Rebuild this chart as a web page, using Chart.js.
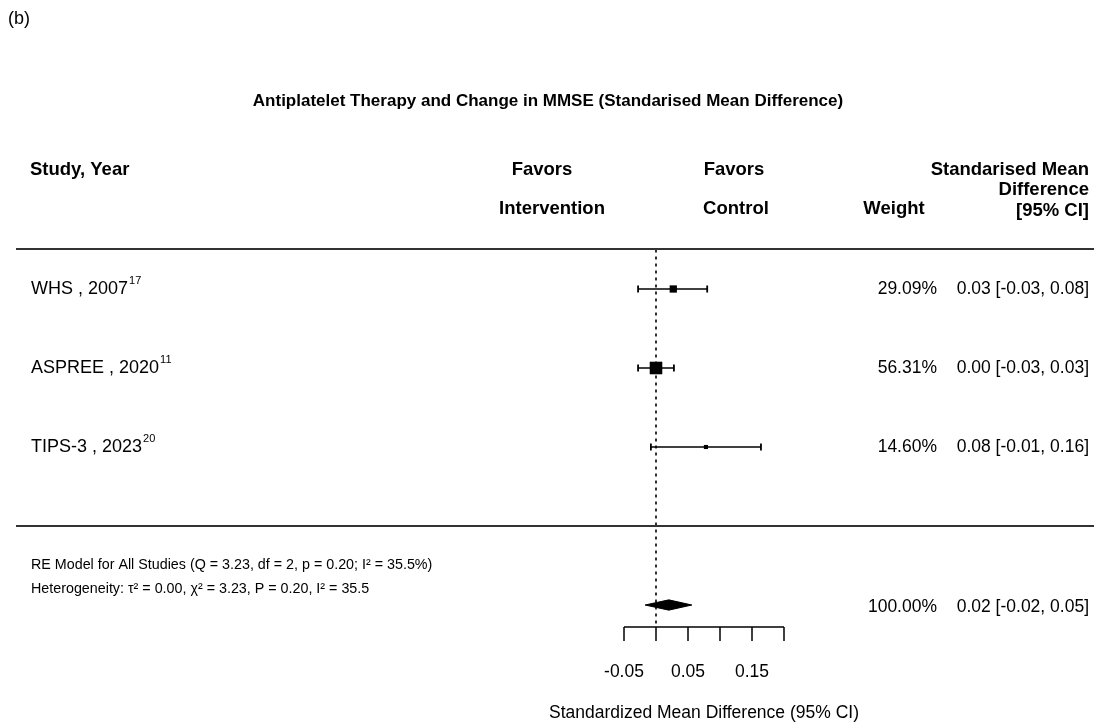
<!DOCTYPE html>
<html>
<head>
<meta charset="utf-8">
<script src="https://cdn.jsdelivr.net/npm/chart.js@4.4.1/dist/chart.umd.min.js"></script>
<style>
  html, body { margin: 0; padding: 0; background: #fff; }
  #wrap { width: 1094px; height: 727px; }
</style>
</head>
<body>
<div id="wrap"><canvas id="forest" width="1094" height="727"></canvas></div>
<script>
const studies = ['WHS , 2007', 'ASPREE , 2020', 'TIPS-3 , 2023']
const studyRefs = ['17', '11', '20']
const estimates = [0.027, 0.0, 0.078]
const lowerCI = [-0.028, -0.028, -0.008]
const upperCI = [0.08, 0.028, 0.164]
const weights = [29.09, 56.31, 14.60]
const weightLabels = ['29.09%', '56.31%', '14.60%']
const ciLabels = ['0.03 [-0.03, 0.08]', '0.00 [-0.03, 0.03]', '0.08 [-0.01, 0.16]']
const pooledEstimate = 0.02
const pooledLower = -0.017
const pooledUpper = 0.056
const pooledWeightLabel = '100.00%'
const pooledCiLabel = '0.02 [-0.02, 0.05]'
const axisTicks = [-0.05, 0, 0.05, 0.10, 0.15, 0.20]
const axisTickLabels = ['-0.05', '', '0.05', '', '0.15', '']

const FONT = '"Liberation Sans", Arial, Helvetica, sans-serif'
const rows = studies.map((s, i) => i + 1)
const pooledRow = 5

// square side grows with weight
const rectRadius = w => 8.9 * Math.pow(w / 56.31, 0.83)

const ciDatasets = studies.map((s, i) => ({
  type: 'scatter',
  data: [{ x: lowerCI[i], y: rows[i] }, { x: upperCI[i], y: rows[i] }],
  showLine: true,
  borderColor: '#000',
  borderWidth: 1.6,
  pointStyle: 'line',
  rotation: 90,
  pointRadius: 3.5,
  pointBorderWidth: 1.8,
  pointBorderColor: '#000',
  order: 2
}))

const halfH = 0.065
const diamond = {
  type: 'scatter',
  data: [
    { x: pooledLower, y: pooledRow },
    { x: pooledEstimate, y: pooledRow - halfH },
    { x: pooledUpper, y: pooledRow },
    { x: pooledEstimate, y: pooledRow + halfH },
    { x: pooledLower, y: pooledRow }
  ],
  showLine: true,
  fill: 'shape',
  backgroundColor: '#000',
  borderColor: '#000',
  borderWidth: 1,
  pointRadius: 0,
  tension: 0,
  order: 1
}

const refLine = {
  type: 'scatter',
  data: [{ x: 0, y: 0.5 }, { x: 0, y: 5.28 }],
  showLine: true,
  borderColor: '#000',
  borderWidth: 1.6,
  borderDash: [3, 4],
  pointRadius: 0,
  order: 3
}

const squares = {
  type: 'scatter',
  data: estimates.map((e, i) => ({ x: e, y: rows[i] })),
  pointStyle: 'rect',
  pointRadius: weights.map(rectRadius),
  backgroundColor: '#000',
  borderColor: '#000',
  borderWidth: 0,
  order: 0
}

const decor = {
  id: 'decor',
  afterDraw(chart) {
    const { ctx, scales: { x, y } } = chart
    ctx.save()
    ctx.fillStyle = '#000'
    ctx.strokeStyle = '#333'

    // header / footer rules
    ctx.lineWidth = 2
    ;[249, 526].forEach(py => {
      ctx.beginPath()
      ctx.moveTo(16, py)
      ctx.lineTo(1094, py)
      ctx.stroke()
    })

    ctx.textBaseline = 'middle'
    ctx.font = '18px ' + FONT
    ctx.textAlign = 'left'
    ctx.fillText('(b)', 8, 19)

    ctx.font = 'bold 17px ' + FONT
    ctx.textAlign = 'center'
    ctx.fillText('Antiplatelet Therapy and Change in MMSE (Standarised Mean Difference)', 548, 101)

    ctx.font = 'bold 18.5px ' + FONT
    ctx.textAlign = 'left'
    ctx.fillText('Study, Year', 30, 170)
    ctx.textAlign = 'center'
    ctx.fillText('Favors', 542, 170)
    ctx.fillText('Intervention', 552, 209)
    ctx.fillText('Favors', 734, 170)
    ctx.fillText('Control', 736, 209)
    ctx.fillText('Weight', 894, 209)
    ctx.textAlign = 'right'
    ctx.fillText('Standarised Mean', 1089, 170)
    ctx.fillText('Difference', 1089, 190)
    ctx.fillText('[95% CI]', 1089, 211)

    // study rows
    studies.forEach((s, i) => {
      const py = y.getPixelForValue(rows[i])
      ctx.font = '18px ' + FONT
      ctx.textAlign = 'left'
      ctx.fillText(s, 31, py)
      const w = ctx.measureText(s).width
      ctx.font = '11px ' + FONT
      ctx.fillText(studyRefs[i], 31 + w + 1, py - 8)
      ctx.font = '17.5px ' + FONT
      ctx.textAlign = 'right'
      ctx.fillText(weightLabels[i], 937, py)
      ctx.fillText(ciLabels[i], 1089, py)
    })

    // model summary
    ctx.font = '14.3px ' + FONT
    ctx.textAlign = 'left'
    ctx.fillText('RE Model for All Studies (Q = 3.23, df = 2, p = 0.20; I² = 35.5%)', 31, 565)
    ctx.fillText('Heterogeneity: τ² = 0.00, χ² = 3.23, P = 0.20, I² = 35.5', 31, 589)
    const pp = y.getPixelForValue(pooledRow)
    ctx.font = '17.5px ' + FONT
    ctx.textAlign = 'right'
    ctx.fillText(pooledWeightLabel, 937, pp + 2)
    ctx.fillText(pooledCiLabel, 1089, pp + 2)

    // x axis
    const axY = 627
    ctx.strokeStyle = '#000'
    ctx.lineWidth = 1.5
    ctx.beginPath()
    ctx.moveTo(x.getPixelForValue(axisTicks[0]), axY)
    ctx.lineTo(x.getPixelForValue(axisTicks[axisTicks.length - 1]), axY)
    ctx.stroke()
    ctx.font = '17.5px ' + FONT
    ctx.textAlign = 'center'
    axisTicks.forEach((t, i) => {
      const px = x.getPixelForValue(t)
      ctx.beginPath()
      ctx.moveTo(px, axY)
      ctx.lineTo(px, axY + 14)
      ctx.stroke()
      if (axisTickLabels[i]) ctx.fillText(axisTickLabels[i], px, 672)
    })
    const mid = (x.getPixelForValue(axisTicks[0]) + x.getPixelForValue(axisTicks[axisTicks.length - 1])) / 2
    ctx.fillText('Standardized Mean Difference (95% CI)', mid, 713)
    ctx.restore()
  }
}

new Chart(document.getElementById('forest'), {
  type: 'scatter',
  data: { datasets: [squares, diamond, ...ciDatasets, refLine] },
  options: {
    responsive: false,
    animation: false,
    layout: { padding: 0, autoPadding: false },
    plugins: { legend: { display: false }, tooltip: { enabled: false } },
    scales: {
      x: { type: 'linear', display: false, min: -656 / 640, max: (1094 - 656) / 640 },
      y: { type: 'linear', display: false, reverse: true, min: 1 - 289 / 79, max: 1 + 438 / 79 }
    }
  },
  plugins: [decor]
})
</script>
</body>
</html>
